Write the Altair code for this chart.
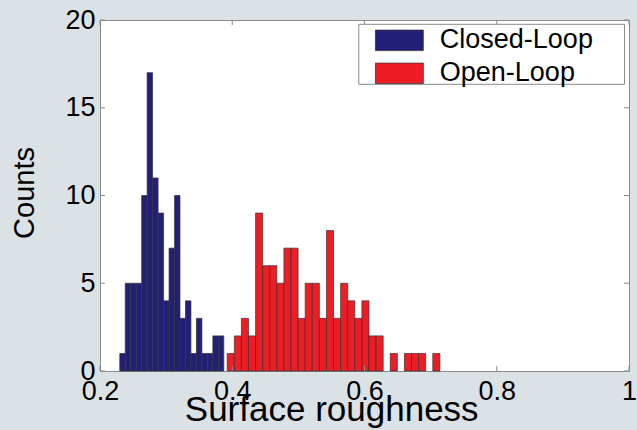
import altair as alt
import pandas as pd

# ---- data ----
series_names = ["Closed-Loop", "Open-Loop"]
closed_counts = [1, 5, 5, 5, 10, 17, 11, 9, 4, 7, 10, 3, 4, 1, 3, 1, 1, 2, 2]
closed_start = 0.2299
closed_width = 0.00828
open_counts = [1, 2, 3, 2, 9, 6, 6, 5, 7, 7, 3, 5, 5, 3, 8, 3, 5, 4, 3, 4, 2, 2,
               0, 1, 0, 1, 1, 1, 0, 1]
open_start = 0.3924
open_width = 0.01072
x_ticks = [0.2, 0.4, 0.6, 0.8, 1.0]
y_ticks = [0, 5, 10, 15, 20]

rows = []
for name, counts, start, w in [
    (series_names[0], closed_counts, closed_start, closed_width),
    (series_names[1], open_counts, open_start, open_width),
]:
    for i, c in enumerate(counts):
        if c > 0:
            rows.append({"series": name, "x0": start + i * w,
                         "x1": start + (i + 1) * w, "count": c})
df = pd.DataFrame(rows)
xt = pd.DataFrame({"v": x_ticks})
yt = pd.DataFrame({"v": y_ticks})

FONT = "Liberation Sans"
GREY = "#8a8a8a"
W, H = 529, 351
TL = 5

xscale = alt.Scale(domain=[0.2, 1.0], nice=False, zero=False)
yscale = alt.Scale(domain=[0, 20], nice=False)

xaxis = alt.Axis(values=x_ticks, format="~g", title="Surface roughness",
                 grid=False, ticks=False, domain=False,
                 labelFont=FONT, labelFontSize=27, labelColor="black",
                 labelPadding=7, labelOverlap=False, labelFlush=False,
                 titleFont=FONT, titleFontSize=35, titleFontWeight="normal",
                 titleColor="black", titleX=231.2, titleY=49,
                 titleBaseline="alphabetic", titleAlign="center")
yaxis = alt.Axis(values=y_ticks, format="~g", title="Counts",
                 grid=False, ticks=False, domain=False,
                 labelFont=FONT, labelFontSize=27, labelColor="black",
                 labelPadding=5, labelOverlap=False, labelFlush=False,
                 titleFont=FONT, titleFontSize=29, titleFontWeight="normal",
                 titleColor="black", titleAngle=270, titleX=-66.2, titleY=172.5,
                 titleBaseline="alphabetic", titleAlign="center")

X = lambda f: alt.X(f, scale=xscale, axis=xaxis)
Y = lambda f: alt.Y(f, scale=yscale, axis=yaxis)

bars = alt.Chart(df).mark_rect(stroke="#333333", strokeWidth=0.7, opacity=1).encode(
    x=X("x0:Q"), x2="x1:Q", y=Y("count:Q"), y2=alt.datum(0),
    color=alt.Color("series:N",
                    scale=alt.Scale(domain=series_names, range=["#221f78", "#ee1d25"]),
                    legend=alt.Legend(orient="none", legendX=274.8, legendY=9.3,
                                      title=None, padding=0,
                                      symbolType="M-1,-0.43H1V0.43H-1Z",
                                      symbolSize=2304, symbolStrokeColor="#333333",
                                      symbolStrokeWidth=0.8, symbolOpacity=1,
                                      labelFont=FONT, labelFontSize=27,
                                      labelColor="black", clipHeight=22,
                                      rowPadding=6, labelOffset=16, symbolOffset=0)),
)

tick_bottom = alt.Chart(xt).mark_rule(color=GREY, strokeWidth=1).encode(
    x=X("v:Q"), y=alt.value(H), y2=alt.value(H - TL))
tick_top = alt.Chart(xt).mark_rule(color=GREY, strokeWidth=1).encode(
    x=X("v:Q"), y=alt.value(0), y2=alt.value(TL))
tick_left = alt.Chart(yt).mark_rule(color=GREY, strokeWidth=1).encode(
    y=Y("v:Q"), x=alt.value(0), x2=alt.value(TL))
tick_right = alt.Chart(yt).mark_rule(color=GREY, strokeWidth=1).encode(
    y=Y("v:Q"), x=alt.value(W), x2=alt.value(W - TL))

legend_box = alt.Chart(alt.Data(values=[{}])).mark_rect(
    fill="white", stroke=GREY, strokeWidth=1).encode(
    x=alt.value(258.8), x2=alt.value(524.5), y=alt.value(4.3), y2=alt.value(64.3))

chart = alt.layer(bars, tick_bottom, tick_top, tick_left, tick_right, legend_box).properties(
    width=W, height=H,
    autosize=alt.AutoSizeParams(type="none"),
    padding={"left": 100, "top": 20, "right": 8, "bottom": 59},
    background="#dbe2e5",
).configure_view(fill="white", stroke=GREY, strokeWidth=1)

chart.save("out.html", embed_options={"renderer": "svg", "actions": False})
